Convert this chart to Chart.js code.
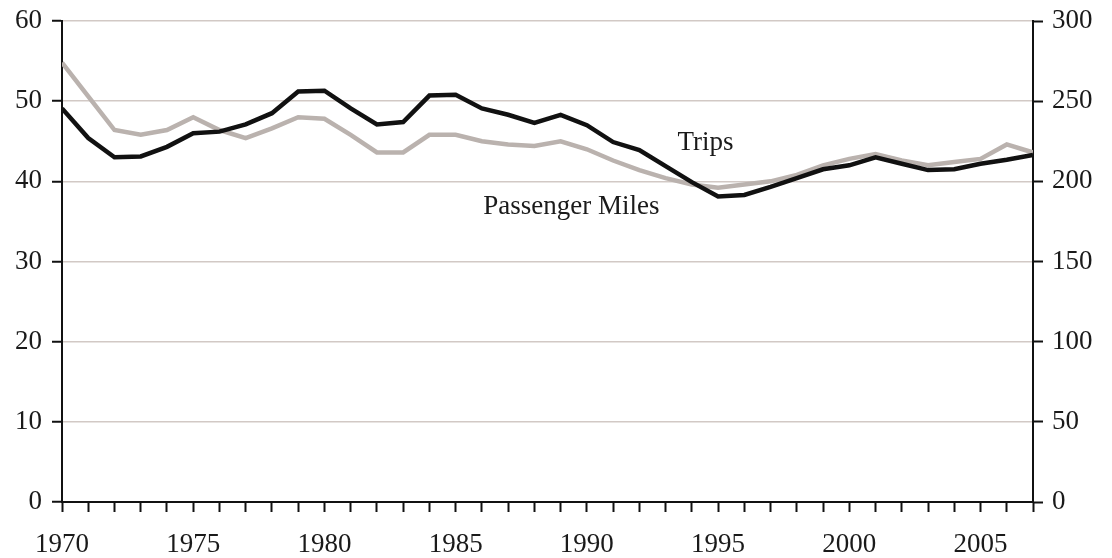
<!DOCTYPE html>
<html>
<head>
<meta charset="utf-8">
<script src="https://cdn.jsdelivr.net/npm/chart.js@4/dist/chart.umd.min.js"></script>
<style>
  html, body { margin: 0; padding: 0; background: #ffffff; }
  #wrap { width: 1112px; height: 558px; position: relative; }
</style>
</head>
<body>
<div id="wrap"><canvas id="c" width="1112" height="558"></canvas></div>
<script>
const years = [1970,1971,1972,1973,1974,1975,1976,1977,1978,1979,1980,1981,1982,1983,1984,1985,1986,1987,1988,1989,1990,1991,1992,1993,1994,1995,1996,1997,1998,1999,2000,2001,2002,2003,2004,2005,2006,2007];
const trips = [49.1,45.4,43.0,43.1,44.3,46.0,46.2,47.1,48.5,51.2,51.3,49.1,47.1,47.4,50.7,50.8,49.1,48.3,47.3,48.3,47.0,44.9,43.9,41.9,39.9,38.1,38.3,39.3,40.4,41.5,42.0,43.0,42.2,41.4,41.5,42.2,42.7,43.3];
const passengerMiles = [274,253,232,229,232,240,232,227,233,240,239,229,218,218,229,229,225,223,222,225,220,213,207,202,198,196,198,200,204,210,214,217,213,210,212,214,223,218];
const leftTicks = [0,10,20,30,40,50,60];
const rightTicks = [0,50,100,150,200,250,300];
const xLabelYears = [1970,1975,1980,1985,1990,1995,2000,2005];
const seriesLabels = [
  { text: 'Trips', year: 1993.45, value: 44.8 },
  { text: 'Passenger Miles', year: 1986.05, value: 36.8 }
];

const FONT = { family: '"Liberation Serif", "Times New Roman", serif', size: 27 };
const YFONT = { family: FONT.family, size: 27, lineHeight: 0.7 };

const labelPlugin = {
  id: 'seriesLabels',
  afterDatasetsDraw(chart) {
    const ctx = chart.ctx;
    const xs = chart.scales.x, ys = chart.scales.y;
    ctx.save();
    ctx.font = FONT.size + 'px ' + FONT.family;
    ctx.fillStyle = '#1a1a1a';
    ctx.textAlign = 'left';
    ctx.textBaseline = 'middle';
    seriesLabels.forEach(l => {
      ctx.fillText(l.text, xs.getPixelForValue(l.year), ys.getPixelForValue(l.value));
    });
    ctx.restore();
  }
};

new Chart(document.getElementById('c'), {
  type: 'line',
  data: {
    datasets: [
      {
        label: 'Passenger Miles',
        data: years.map((y, i) => ({ x: y, y: passengerMiles[i] })),
        yAxisID: 'y1',
        borderColor: '#bab2ae',
        borderWidth: 4.5,
        pointRadius: 0,
        tension: 0,
        order: 2
      },
      {
        label: 'Trips',
        data: years.map((y, i) => ({ x: y, y: trips[i] })),
        yAxisID: 'y',
        borderColor: '#111111',
        borderWidth: 4.5,
        pointRadius: 0,
        tension: 0,
        order: 1
      }
    ]
  },
  options: {
    responsive: false,
    animation: false,
    devicePixelRatio: 1,
    layout: { padding: { top: 21, right: 0, bottom: 0, left: 0 } },
    plugins: { legend: { display: false }, tooltip: { enabled: false } },
    scales: {
      x: {
        type: 'linear',
        min: 1970, max: 2007,
        afterBuildTicks(scale) { scale.ticks = years.map(v => ({ value: v })); },
        afterFit(scale) { scale.height = 56; },
        ticks: {
          autoSkip: false,
          maxRotation: 0,
          color: '#1a1a1a',
          font: FONT,
          padding: 17,
          callback: (v) => xLabelYears.includes(v) ? String(v) : ''
        },
        grid: { drawOnChartArea: false, drawTicks: true, tickLength: 10, tickColor: '#111', tickWidth: 2 },
        border: { display: true, color: '#111', width: 2 }
      },
      y: {
        position: 'left',
        min: 0, max: 60,
        afterBuildTicks(scale) { scale.ticks = leftTicks.map(v => ({ value: v })); },
        afterFit(scale) { scale.width = 62; },
        ticks: { color: '#1a1a1a', font: YFONT, padding: 10 },
        grid: { color: (c) => c.tick && c.tick.value === 0 ? 'rgba(0,0,0,0)' : '#d2c9c5', lineWidth: 1.5, drawTicks: true, tickLength: 10, tickColor: '#111', tickWidth: 2 },
        border: { display: true, color: '#111', width: 2 }
      },
      y1: {
        position: 'right',
        min: 0, max: 300,
        afterBuildTicks(scale) { scale.ticks = rightTicks.map(v => ({ value: v })); },
        afterFit(scale) { scale.width = 79; },
        ticks: { color: '#1a1a1a', font: YFONT, padding: 9 },
        grid: { drawOnChartArea: false, drawTicks: true, tickLength: 10, tickColor: '#111', tickWidth: 2 },
        border: { display: true, color: '#111', width: 2 }
      }
    }
  },
  plugins: [labelPlugin]
});
</script>
</body>
</html>
